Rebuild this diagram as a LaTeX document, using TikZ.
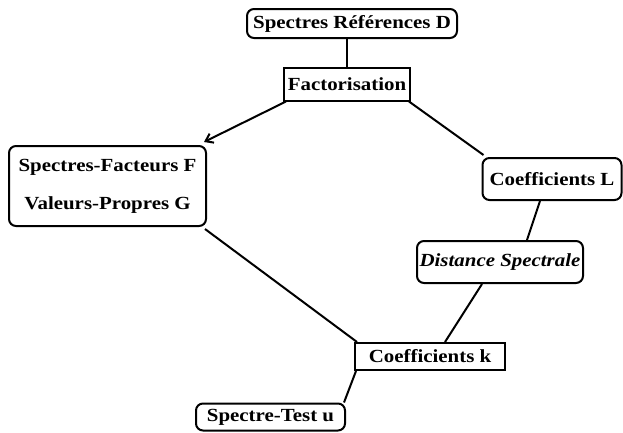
\documentclass[tikz,border=0pt]{standalone}
\usepackage{fontspec}
\setmainfont{Liberation Serif}[FakeStretch=1.13]
\usetikzlibrary{arrows.meta}
\begin{document}
\begin{tikzpicture}[x=1pt,y=-1pt,
  box/.style={draw,line width=2pt,inner sep=0pt,font=\bfseries\fontsize{18.5}{20}\selectfont},
  rbox/.style={box,rounded corners=7pt},
  conn/.style={line width=2pt}]
\useasboundingbox (0,0) rectangle (623,432);
\node[rbox,minimum width=210,minimum height=29] (D) at (352,23.5) {Spectres Références D};
\node[box,minimum width=126,minimum height=33] (fac) at (347,84) {Factorisation};
\node[rbox,minimum width=197,minimum height=80,align=center] (F) at (107.5,186) {Spectres-Facteurs F\\[18pt]Valeurs-Propres G};
\node[rbox,minimum width=139,minimum height=42] (L) at (552,179) {Coefficients L};
\node[rbox,minimum width=166,minimum height=42] (ds) at (500,262) {\itshape Distance Spectrale};
\node[box,minimum width=150,minimum height=27] (k) at (430,356.5) {Coefficients k};
\node[rbox,minimum width=149,minimum height=27] (u) at (270.5,417) {Spectre-Test u};
\draw[conn] (fac.north) -- (fac.north |- D.south);
\draw[conn,-{Straight Barb[length=7pt,width=10pt]}] ([xshift=3]fac.south west) -- ([xshift=-3,yshift=3]F.north east);
\draw[conn] ([xshift=-2]fac.south east) -- ([xshift=2,yshift=2]L.north west);
\draw[conn] ([xshift=-12]L.south) -- ([xshift=27]ds.north);
\draw[conn] ([xshift=-18]ds.south) -- ([xshift=15]k.north);
\draw[conn] ([xshift=-2,yshift=-2]F.south east) -- ([xshift=3]k.north west);
\draw[conn] ([xshift=2]k.south west) -- ([xshift=-2]u.north east);
\end{tikzpicture}
\end{document}
